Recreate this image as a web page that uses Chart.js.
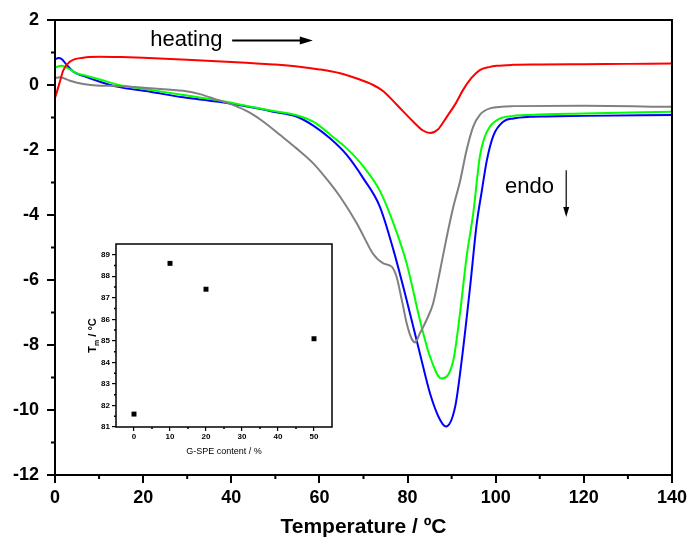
<!DOCTYPE html>
<html>
<head>
<meta charset="utf-8">
<script src="https://cdn.jsdelivr.net/npm/chart.js@4.4.1/dist/chart.umd.min.js"></script>
<style>
    html, body { margin: 0; padding: 0; background: #fff; }
    #wrap { position: relative; width: 691px; height: 541px; }
    #main { position: absolute; left: 0; top: 0; }
    #inset { position: absolute; left: 60px; top: 236px; }
</style>
</head>
<body>
<div id="wrap">
    <canvas id="main" width="691" height="541"></canvas>
    <canvas id="inset" width="290" height="230"></canvas>
</div>
<script>
// ─── data ───────────────────────────────────────────────────────────────────

const redT = [0, 1, 1.9, 3.4, 6.4, 10, 15, 20, 30, 40, 45, 50, 55, 60, 64.7, 68.5, 72.2, 74.5, 77.5, 81.3, 83.5, 85.1, 86.8, 88.9, 91, 92.6, 94.5, 96.4, 98.5, 100.2, 104, 110, 120, 130, 140];
const redHF = [-0.40, 0.05, 0.46, 0.72, 0.84, 0.87, 0.86, 0.84, 0.78, 0.71, 0.67, 0.63, 0.57, 0.48, 0.36, 0.20, 0.0, -0.19, -0.60, -1.13, -1.40, -1.48, -1.38, -0.98, -0.55, -0.15, 0.22, 0.46, 0.55, 0.59, 0.62, 0.63, 0.64, 0.65, 0.66];

const blueT = [0, 0.8, 1.5, 2.65, 4.15, 6.4, 10.2, 14, 21.6, 29.1, 36.7, 44.2, 49.5, 54.8, 58.6, 62.4, 66.2, 70, 73.7, 76.8, 79.8, 82.8, 85.1, 87.4, 88.7, 90.8, 92.3, 94.2, 95.7, 96.8, 98, 99.5, 101.7, 104, 107.8, 111.6, 120, 140];
const blueHF = [0.79, 0.83, 0.80, 0.62, 0.41, 0.28, 0.10, -0.05, -0.21, -0.38, -0.51, -0.68, -0.82, -0.97, -1.25, -1.64, -2.15, -2.88, -3.74, -5.08, -6.62, -8.26, -9.49, -10.31, -10.51, -9.9, -8.46, -6.2, -4.26, -3.3, -2.31, -1.55, -1.13, -1.03, -0.98, -0.97, -0.95, -0.92];

const greenT = [0, 1.5, 3.0, 4.9, 6.4, 10.2, 14, 21.6, 29.1, 36.7, 44.2, 49.5, 54.8, 58.6, 60.9, 62.4, 66.2, 70, 73.7, 76.8, 79.8, 82.8, 85.1, 87.7, 90.4, 91.9, 93.4, 94.9, 96.4, 97.5, 98.7, 101, 104, 107.8, 111.6, 120, 140];
const greenHF = [0.54, 0.59, 0.51, 0.36, 0.31, 0.17, 0.02, -0.15, -0.31, -0.46, -0.66, -0.80, -0.93, -1.13, -1.35, -1.52, -1.95, -2.51, -3.25, -4.26, -5.49, -7.23, -8.36, -9.03, -8.46, -7.02, -5.28, -3.95, -2.2, -1.6, -1.28, -1.03, -0.95, -0.92, -0.90, -0.88, -0.82];

const grayT = [0, 1.1, 3.4, 6.4, 10.2, 14, 21.6, 29.1, 32.9, 36.7, 40.5, 44.2, 47.3, 51.1, 54.8, 58.6, 62.4, 64.7, 68.5, 70, 72.2, 74.5, 76.4, 77.5, 78.7, 79.8, 80.9, 81.7, 82.8, 84.3, 85.8, 87.4, 88.9, 90.4, 91.9, 93.4, 94.9, 96.4, 98.7, 104, 120, 140];
const grayHF = [0.21, 0.24, 0.13, 0.03, -0.02, -0.03, -0.10, -0.18, -0.28, -0.45, -0.62, -0.85, -1.13, -1.54, -1.95, -2.41, -3.02, -3.44, -4.26, -4.65, -5.2, -5.49, -5.59, -5.9, -6.62, -7.33, -7.8, -7.92, -7.64, -7.23, -6.72, -5.69, -4.67, -3.74, -2.97, -2.0, -1.28, -0.92, -0.72, -0.65, -0.64, -0.67];

const xMinorTicks = [10, 30, 50, 70, 90, 110, 130];
const yMinorTicks = [-11, -9, -7, -5, -3, -1, 1];

// inset: melting peak vs filler content
const gspeContent = [0, 10, 20, 50];
const meltTemp = [81.6, 88.6, 87.4, 85.1];
const insetXTicks = [0, 10, 20, 30, 40, 50];
const insetXMinor = [5, 15, 25, 35, 45];
const insetYMinor = [81.5, 82.5, 83.5, 84.5, 85.5, 86.5, 87.5, 88.5];

const FONT = "'Liberation Sans', Arial, sans-serif";

const pts = (xs, ys) => xs.map((x, i) => ({x, y: ys[i]}));

// ─── plugins ────────────────────────────────────────────────────────────────

// box frame plus short minor ticks, placed through the scales
const frameTicks = {
    id: 'frameTicks',
    afterDraw(chart, args, opts) {
        const {ctx, chartArea: a, scales: {x, y}} = chart;
        ctx.save();
        ctx.strokeStyle = '#000';
        ctx.lineWidth = opts.width;
        ctx.strokeRect(a.left, a.top, a.right - a.left, a.bottom - a.top);
        ctx.beginPath();
        opts.xMinor.forEach(v => {
            const px = x.getPixelForValue(v);
            ctx.moveTo(px, a.bottom);
            ctx.lineTo(px, a.bottom + opts.len);
        });
        opts.yMinor.forEach(v => {
            const py = y.getPixelForValue(v);
            ctx.moveTo(a.left, py);
            ctx.lineTo(a.left - opts.len, py);
        });
        ctx.stroke();
        ctx.restore();
    }
};

function arrowHead(ctx, x, y, dx, dy, len, half) {
    const n = Math.hypot(dx, dy), ux = dx / n, uy = dy / n;
    ctx.beginPath();
    ctx.moveTo(x, y);
    ctx.lineTo(x - ux * len - uy * half, y - uy * len + ux * half);
    ctx.lineTo(x - ux * len + uy * half, y - uy * len - ux * half);
    ctx.closePath();
    ctx.fill();
}

// "heating" and "endo" labels with their arrows
const notes = {
    id: 'notes',
    afterDatasetsDraw(chart) {
        const {ctx, scales: {x, y}} = chart;
        ctx.save();
        ctx.fillStyle = '#000';
        ctx.strokeStyle = '#000';
        ctx.font = `22px ${FONT}`;
        ctx.textBaseline = 'middle';
        ctx.textAlign = 'left';

        ctx.fillText('heating', x.getPixelForValue(21.6), y.getPixelForValue(1.39));
        const hx0 = x.getPixelForValue(40.2), hx1 = x.getPixelForValue(58.5), hy = y.getPixelForValue(1.37);
        ctx.lineWidth = 2;
        ctx.beginPath();
        ctx.moveTo(hx0, hy);
        ctx.lineTo(hx1 - 8, hy);
        ctx.stroke();
        arrowHead(ctx, hx1, hy, 1, 0, 13, 4);

        ctx.fillText('endo', x.getPixelForValue(102.1), y.getPixelForValue(-3.14));
        const ex = x.getPixelForValue(116), ey0 = y.getPixelForValue(-2.62), ey1 = y.getPixelForValue(-4.06);
        ctx.lineWidth = 1.2;
        ctx.beginPath();
        ctx.moveTo(ex, ey0);
        ctx.lineTo(ex, ey1 - 6);
        ctx.stroke();
        arrowHead(ctx, ex, ey1, 0, 1, 10, 3);
        ctx.restore();
    }
};

// rotated "Tm / °C" with a real subscript
const insetYTitle = {
    id: 'insetYTitle',
    afterDraw(chart) {
        const {ctx, chartArea: a} = chart;
        const big = `bold 11px ${FONT}`, small = `bold 7px ${FONT}`;
        ctx.save();
        ctx.fillStyle = '#000';
        ctx.textBaseline = 'alphabetic';
        ctx.font = big;
        const wT = ctx.measureText('T').width, wRest = ctx.measureText(' / °C').width;
        ctx.font = small;
        const wm = ctx.measureText('m').width;
        ctx.translate(a.left - 20, (a.top + a.bottom) / 2);
        ctx.rotate(-Math.PI / 2);
        let cx = -(wT + wm + wRest) / 2;
        ctx.font = big;
        ctx.fillText('T', cx, 0);
        cx += wT;
        ctx.font = small;
        ctx.fillText('m', cx, 3);
        cx += wm;
        ctx.font = big;
        ctx.fillText(' / °C', cx, 0);
        ctx.restore();
    }
};

// ─── main DSC chart ─────────────────────────────────────────────────────────

const line = (data, color) => ({
    data,
    borderColor: color,
    borderWidth: 2,
    pointRadius: 0,
    fill: false,
    cubicInterpolationMode: 'monotone',
});

new Chart(document.getElementById('main'), {
    type: 'line',
    data: {
        datasets: [
            line(pts(redT, redHF), '#ff0000'),
            line(pts(grayT, grayHF), '#808080'),
            line(pts(greenT, greenHF), '#00ff00'),
            line(pts(blueT, blueHF), '#0000ff'),
        ],
    },
    options: {
        responsive: false,
        animation: false,
        devicePixelRatio: 1,
        layout: {padding: {top: 20, right: 19, left: 0, bottom: 0}},
        plugins: {
            legend: {display: false},
            tooltip: {enabled: false},
            frameTicks: {width: 2, len: 4, xMinor: xMinorTicks, yMinor: yMinorTicks},
        },
        scales: {
            x: {
                type: 'linear',
                min: 0,
                max: 140,
                afterFit: s => { s.height = 66; },
                grid: {drawOnChartArea: false, color: '#000', lineWidth: 2, tickLength: 8},
                border: {display: false},
                ticks: {stepSize: 20, color: '#000', padding: 4, font: {family: FONT, size: 18, weight: 'bold'}},
                title: {
                    display: true,
                    text: 'Temperature / ºC',
                    color: '#000',
                    padding: {top: 0, bottom: 1},
                    font: {family: FONT, size: 21, weight: 'bold'},
                },
            },
            y: {
                min: -12,
                max: 2,
                afterFit: s => { s.width = 55; },
                grid: {drawOnChartArea: false, color: '#000', lineWidth: 2, tickLength: 8},
                border: {display: false},
                ticks: {stepSize: 2, color: '#000', padding: 8, font: {family: FONT, size: 18, weight: 'bold'}},
            },
        },
    },
    plugins: [frameTicks, notes],
});

// ─── inset: Tm vs G-SPE content ─────────────────────────────────────────────

new Chart(document.getElementById('inset'), {
    type: 'scatter',
    data: {
        datasets: [{
            data: pts(gspeContent, meltTemp),
            pointStyle: 'rect',
            pointRadius: 3.5,
            backgroundColor: '#000',
            borderColor: '#000',
            borderWidth: 0,
        }],
    },
    options: {
        responsive: false,
        animation: false,
        devicePixelRatio: 1,
        layout: {padding: {top: 8, right: 18, left: 0, bottom: 0}},
        plugins: {
            legend: {display: false},
            tooltip: {enabled: false},
            frameTicks: {width: 1.5, len: 2, xMinor: insetXMinor, yMinor: insetYMinor},
        },
        scales: {
            x: {
                type: 'linear',
                min: -5,
                max: 55,
                afterFit: s => { s.height = 39; },
                afterBuildTicks: s => { s.ticks = insetXTicks.map(value => ({value})); },
                grid: {drawOnChartArea: false, color: '#000', lineWidth: 1.2, tickLength: 4},
                border: {display: false},
                ticks: {color: '#000', padding: 1, font: {family: FONT, size: 8, weight: 'bold'}},
                title: {
                    display: true,
                    text: 'G-SPE content / %',
                    color: '#000',
                    padding: {top: 0, bottom: 9},
                    font: {family: FONT, size: 9},
                },
            },
            y: {
                min: 81,
                max: 89.5,
                afterFit: s => { s.width = 56; },
                grid: {drawOnChartArea: false, color: '#000', lineWidth: 1.2, tickLength: 4},
                border: {display: false},
                ticks: {stepSize: 1, includeBounds: false, color: '#000', padding: 2, font: {family: FONT, size: 8, weight: 'bold'}},
            },
        },
    },
    plugins: [frameTicks, insetYTitle],
});
</script>
</body>
</html>
